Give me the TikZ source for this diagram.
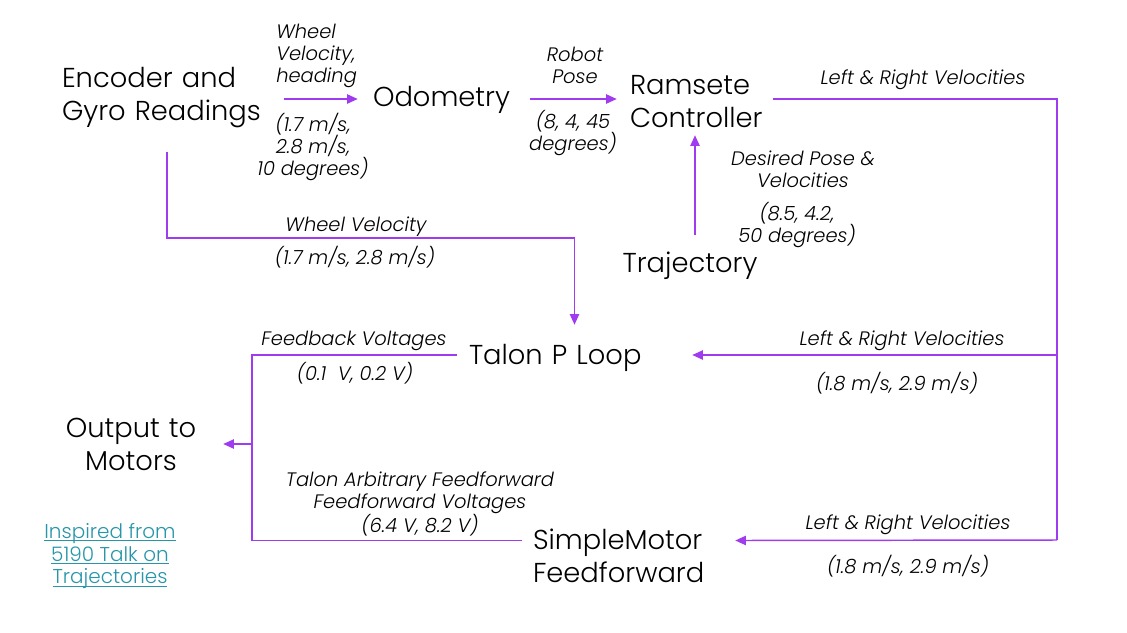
\documentclass[tikz,border=0pt]{standalone}
\usepackage{fontspec}
\setmainfont{Poppins}[UprightFont=* Light, ItalicFont=* Light Italic]
\usetikzlibrary{arrows.meta}
\definecolor{flow}{RGB}{160,60,240}
\definecolor{linkc}{RGB}{40,150,170}
\newcommand\myul[1]{\setbox0=\hbox{#1}\rlap{\rule[-2.2pt]{\wd0}{0.75pt}}\box0}
\tikzset{
  main/.style={font=\fontsize{20.5pt}{24.75pt}\selectfont, inner ysep=0pt},
  lab/.style={font=\fontsize{14.6pt}{16.5pt}\selectfont\itshape, align=center, inner sep=0pt, yshift=-2.25pt},
  conn/.style={draw=flow, line width=1.1pt},
  arr/.style={conn, -{Triangle[length=8pt,width=7pt]}},
  linktext/.style={font=\fontsize{15pt}{17pt}\selectfont, text=linkc, align=center, inner sep=0pt},
}
\begin{document}
\begin{tikzpicture}[x=0.75pt,y=-0.75pt]
\useasboundingbox (0,0) rectangle (1127,632);

% main nodes
\node[main, align=left, text width=157.5pt, inner xsep=9pt, minimum height=81pt] (enc) at (167,97.5) {Encoder and\\Gyro Readings};
\node[main, align=left, text width=106.5pt, inner xsep=11.25pt] (odo) at (444,99.5) {Odometry};
\node[main, align=left, text width=97.5pt, inner xsep=9.75pt, minimum height=49.5pt] (ram) at (695,102) {Ramsete\\Controller};
\node[main, align=center, minimum height=46.5pt, inner xsep=0pt] (traj) at (690,266) {Trajectory};
\node[main, align=left, text width=158.25pt, inner xsep=9pt, minimum height=48.75pt] (talon) at (574.5,357.5) {Talon P Loop};
\node[main, align=left, text width=143.25pt, inner xsep=8.25pt] (smf) at (628.5,555.5) {SimpleMotor\\Feedforward};
\node[main, align=center, text width=138pt, inner xsep=0pt] (out) at (131,444) {Output to\\Motors};
\node[linktext] (link) at (110,556) {\myul{Inspired from}\\\myul{5190 Talk on}\\\myul{Trajectories}};

% junction coordinates
\coordinate (jw) at (370,238);
\coordinate (jr) at (1057,540);
\coordinate (jm) at (1057,355);
\coordinate (jl) at (252,444);

% connectors
\draw[arr] ([yshift=-1.125pt]enc.east) -- ([yshift=-1.125pt]enc.east -| odo.west);
\draw[arr] ([yshift=0.375pt]odo.east) -- ([yshift=0.375pt]odo.east -| ram.west);
\draw[arr] (traj.north -| ram.south) -- (ram.south);
\draw[conn] ([yshift=2.25pt]ram.east) -| (jr);
\draw[arr] (jr) -- ([yshift=11.25pt]smf.east);
\draw[arr] (jm) -- (jm -| talon.east);
\draw[arr] (enc.south) |- (jw) -| (talon.north);
\draw[conn] ([yshift=1.875pt]talon.west) -| (jl) |- ([yshift=11.25pt]smf.west);
\draw[arr] (jl) -- (out.east);

% labels
\node[lab, align=left, anchor=west] (l1) at (276,53) {Wheel\\Velocity,\\heading};
\node[lab, yshift=2.25pt] (l2) at (313,147) {(1.7 m/s,\\2.8 m/s,\\10 degrees)};
\node[lab, yshift=2.25pt] (l3) at (575,65) {Robot\\Pose};
\node[lab, yshift=2.25pt] (l4) at (573,133) {(8, 4, 45\\degrees)};
\node[lab] (l5) at (923,77) {Left \& Right Velocities};
\node[lab, yshift=2.25pt] (l6) at (803,169) {Desired Pose \&\\Velocities};
\node[lab] (l7) at (797,222) {(8.5, 4.2,\\50 degrees)};
\node[lab] (l8) at (356,224) {Wheel Velocity};
\node[lab] (l9) at (355,254) {(1.7 m/s, 2.8 m/s)};
\node[lab] (l10) at (354,338) {Feedback Voltages};
\node[lab] (l11) at (355,370) {(0.1\ \ V, 0.2 V)};
\node[lab] (l12) at (902,338) {Left \& Right Velocities};
\node[lab] (l13) at (897,380) {(1.8 m/s, 2.9 m/s)};
\node[lab] (l14) at (420,501) {Talon Arbitrary Feedforward\\Feedforward Voltages\\(6.4 V, 8.2 V)};
\node[lab] (l15) at (908,522) {Left \& Right Velocities};
\node[lab] (l16) at (908,563) {(1.8 m/s, 2.9 m/s)};
\end{tikzpicture}
\end{document}
